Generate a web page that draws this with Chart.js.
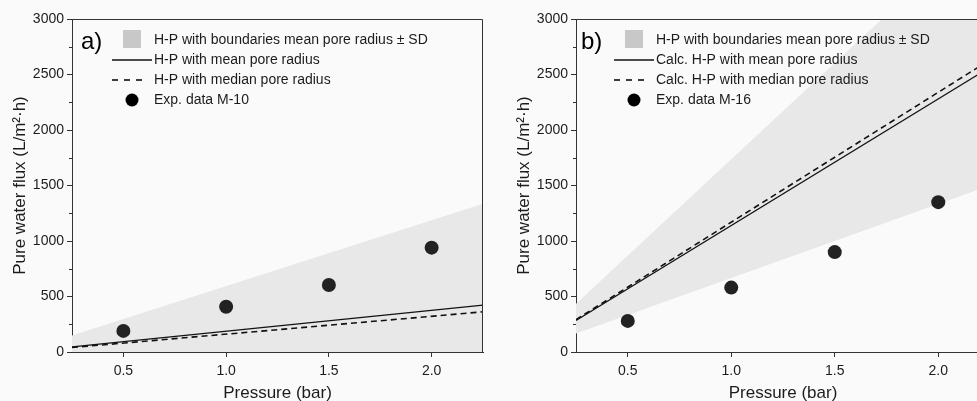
<!DOCTYPE html>
<html>
<head>
<meta charset="utf-8">
<script src="https://cdn.jsdelivr.net/npm/chart.js@4"></script>
<style>
  html, body { margin: 0; padding: 0; background: #fafafa; overflow: hidden; width: 977px; height: 401px; }
  canvas { position: absolute; top: 0; }
  #chartA { left: 0; }
  #chartB { left: 490px; }
</style>
</head>
<body>
<canvas id="chartA" width="490" height="401"></canvas>
<canvas id="chartB" width="520" height="401"></canvas>
<script>
// --- DATA ---
const lineEnds = [0.25, 2.25];          // pressure range of the model lines (bar)
const expPressure = [0.5, 1.0, 1.5, 2.0];
const xTicks = [0.5, 1.0, 1.5, 2.0];

// panel a) M-10
const bandLowA = [0, 0];
const bandHighA = [148, 1335];
const meanA = [47, 423];
const medianA = [40, 362];
const expA = [190, 408, 603, 940];

// panel b) M-16
const bandLowB = [167, 1500];
const bandHighB = [434, 3906];
const meanB = [285, 2565];
const medianB = [292, 2632];
const expB = [280, 580, 900, 1350];

const FONT = "'Liberation Sans', Arial, sans-serif";
const INK = '#1c1c1c';
const BAND = '#e8e8e8';

const pts = (xs, ys) => xs.map((x, i) => ({ x, y: ys[i] }));

// legend + panel letter + frame + minor ticks
const decor = {
  id: 'decor',
  afterDraw(chart, args, o) {
    const { ctx, chartArea: a, scales } = chart;
    ctx.save();
    // top + right frame
    ctx.strokeStyle = '#333'; ctx.lineWidth = 1;
    ctx.beginPath();
    ctx.moveTo(a.left, a.top + 0.5); ctx.lineTo(a.right - 0.5, a.top + 0.5); ctx.lineTo(a.right - 0.5, a.bottom);
    ctx.stroke();
    // minor y ticks
    const y = scales.y;
    for (let v = 250; v < 3000; v += 500) {
      const py = Math.round(y.getPixelForValue(v)) + 0.5;
      ctx.beginPath(); ctx.moveTo(a.left - 3, py); ctx.lineTo(a.left, py); ctx.stroke();
    }
    // panel letter
    ctx.fillStyle = '#000';
    ctx.font = '24px ' + FONT;
    ctx.textBaseline = 'middle';
    ctx.fillText(o.letter, a.left + o.letterX, 42);
    // legend
    const sx = a.left + o.symX, tx = a.left + o.textX;
    ctx.font = '14px ' + FONT;
    ctx.fillStyle = '#c8c8c8';
    ctx.fillRect(sx + 11, 30, 18, 18);
    ctx.strokeStyle = '#111'; ctx.lineWidth = 1.3;
    ctx.beginPath(); ctx.moveTo(sx, 60); ctx.lineTo(tx - 2, 60); ctx.stroke();
    ctx.lineWidth = 1.6;
    ctx.setLineDash([6, 6]);
    ctx.beginPath(); ctx.moveTo(sx, 80); ctx.lineTo(sx + 30, 80); ctx.stroke();
    ctx.setLineDash([]);
    ctx.fillStyle = '#000';
    ctx.beginPath(); ctx.arc(sx + 20, 100, 6.5, 0, Math.PI * 2); ctx.fill();
    ctx.fillStyle = INK;
    o.labels.forEach((t, i) => ctx.fillText(t, tx, 40 + i * 20));
    ctx.restore();
  }
};

function makeChart(id, low, high, mean, median, exp, padLeft, padRight, legend) {
  return new Chart(document.getElementById(id), {
    type: 'scatter',
    data: {
      datasets: [
        { data: pts(lineEnds, low), showLine: true, pointRadius: 0, borderWidth: 0, borderColor: 'transparent', fill: false, order: 5 },
        { data: pts(lineEnds, high), showLine: true, pointRadius: 0, borderWidth: 0, borderColor: 'transparent', backgroundColor: BAND, fill: '-1', order: 4 },
        { data: pts(lineEnds, mean), showLine: true, pointRadius: 0, borderWidth: 1.2, borderColor: '#111', order: 2 },
        { data: pts(lineEnds, median), showLine: true, pointRadius: 0, borderWidth: 1.6, borderColor: '#111', borderDash: [6, 4], order: 3 },
        { data: pts(expPressure, exp), pointRadius: 7, pointHoverRadius: 7, backgroundColor: '#222', borderColor: '#222', borderWidth: 0, order: 1 }
      ]
    },
    options: {
      responsive: false,
      devicePixelRatio: 1,
      animation: false,
      events: [],
      layout: { padding: { top: 19, right: padRight, left: padLeft, bottom: 0 } },
      plugins: { legend: { display: false }, tooltip: { enabled: false }, decor: legend },
      scales: {
        x: {
          type: 'linear', min: 0.25, max: 2.25,
          afterBuildTicks: s => { s.ticks = xTicks.map(v => ({ value: v })); },
          afterFit: s => { s.height = 49; },
          ticks: { callback: v => v.toFixed(1), color: INK, font: { family: FONT, size: 14 }, padding: 6, maxRotation: 0 },
          grid: { drawOnChartArea: false, color: '#333', tickLength: 5 },
          border: { color: '#333', width: 1 },
          title: { display: true, text: 'Pressure (bar)', color: INK, font: { family: FONT, size: 17 }, padding: { top: 5, bottom: -3 } }
        },
        y: {
          min: 0, max: 3000,
          afterFit: s => { s.width = 62; },
          ticks: { stepSize: 500, callback: v => String(v), color: INK, font: { family: FONT, size: 14 }, padding: 3 },
          grid: { drawOnChartArea: false, color: '#333', tickLength: 5 },
          border: { color: '#333', width: 1 },
          title: { display: true, text: 'Pure water flux (L/m²·h)', color: INK, font: { family: FONT, size: 17 }, padding: { top: 0, bottom: 2 } }
        }
      }
    },
    plugins: [decor]
  });
}

makeChart('chartA', bandLowA, bandHighA, meanA, medianA, expA, 10, 4, {
  letter: 'a)', letterX: 9, symX: 40, textX: 82,
  labels: ['H-P with boundaries mean pore radius ± SD', 'H-P with mean pore radius', 'H-P with median pore radius', 'Exp. data M-10']
});
makeChart('chartB', bandLowB, bandHighB, meanB, medianB, expB, 24, 20, {
  letter: 'b)', letterX: 5, symX: 38, textX: 80,
  labels: ['H-P with boundaries mean pore radius ± SD', 'Calc. H-P with mean pore radius', 'Calc. H-P with median pore radius', 'Exp. data M-16']
});
</script>
</body>
</html>
